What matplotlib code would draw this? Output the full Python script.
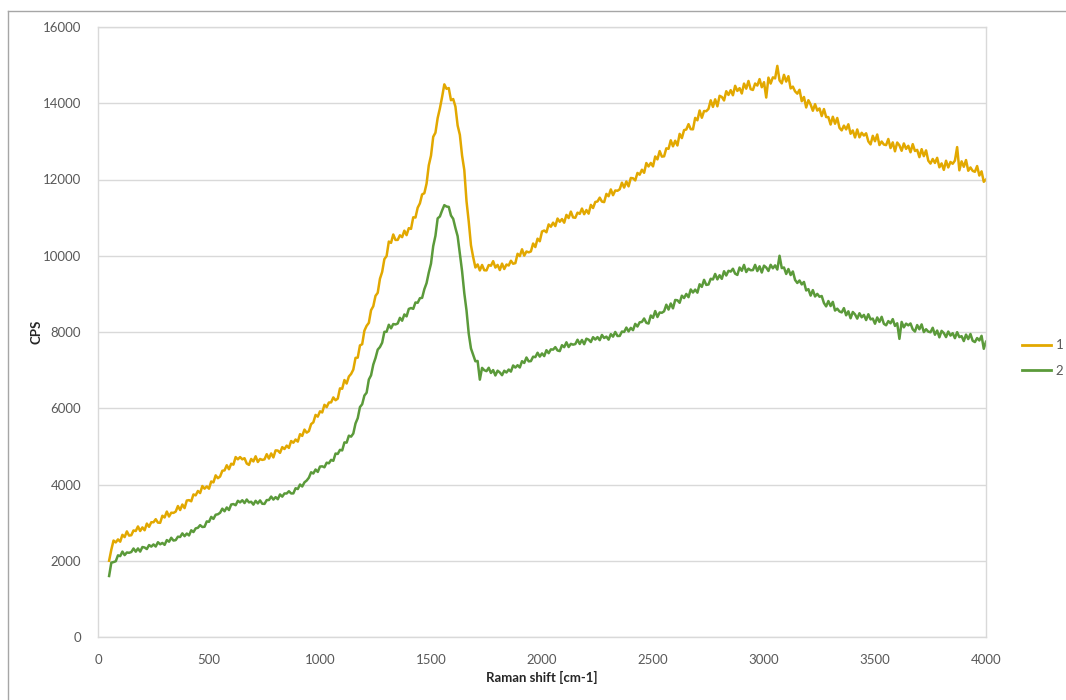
import numpy as np
import matplotlib
matplotlib.use("Agg")
import matplotlib.pyplot as plt
from matplotlib.lines import Line2D

# Counts (CPS), one value every 10 cm-1 from 50 to 4000
series_names = ["1", "2"]

cps_1 = [
    2000, 2290, 2530, 2480, 2560, 2500, 2680, 2620, 2770, 2660,
    2670, 2795, 2780, 2900, 2780, 2875, 2800, 2975, 2890, 3010,
    3010, 3090, 3000, 2995, 3180, 3135, 3290, 3160, 3260, 3255,
    3290, 3435, 3330, 3475, 3380, 3580, 3590, 3560, 3740, 3715,
    3830, 3775, 3960, 3890, 3950, 3890, 4080, 4055, 4240, 4165,
    4210, 4360, 4370, 4505, 4400, 4545, 4520, 4720, 4660, 4720,
    4660, 4690, 4550, 4515, 4670, 4605, 4740, 4590, 4670, 4645,
    4660, 4795, 4680, 4815, 4710, 4895, 4890, 4830, 4980, 4930,
    5020, 4960, 5140, 5095, 5180, 5125, 5320, 5275, 5440, 5360,
    5400, 5585, 5630, 5825, 5780, 5920, 5890, 6090, 6030, 6150,
    6154, 6284, 6210, 6252, 6522, 6511, 6740, 6648, 6832, 6899,
    7014, 7321, 7328, 7648, 7680, 8035, 8162, 8241, 8572, 8676,
    8948, 9028, 9396, 9576, 9912, 9992, 10372, 10339, 10558, 10415,
    10416, 10536, 10488, 10658, 10540, 10724, 10704, 11009, 11002, 11260,
    11374, 11609, 11640, 11892, 12372, 12626, 13120, 13228, 13612, 13864,
    14164, 14496, 14378, 14398, 14080, 14110, 13912, 13416, 13172, 12626,
    12248, 11428, 10896, 10276, 9962, 9692, 9772, 9614, 9758, 9620,
    9616, 9756, 9738, 9858, 9690, 9759, 9624, 9794, 9652, 9770,
    9744, 9869, 9790, 9807, 10052, 9991, 10170, 10003, 10112, 10089,
    10114, 10321, 10228, 10448, 10380, 10635, 10662, 10616, 10822, 10761,
    10868, 10778, 10976, 10891, 10962, 10867, 11072, 10989, 11158, 11005,
    10996, 11131, 11098, 11238, 11090, 11199, 11104, 11334, 11252, 11410,
    11424, 11524, 11420, 11407, 11622, 11561, 11740, 11588, 11712, 11704,
    11744, 11916, 11788, 11948, 11820, 12040, 12032, 11976, 12172, 12126,
    12256, 12176, 12432, 12342, 12434, 12344, 12604, 12528, 12746, 12600,
    12608, 12818, 12804, 13029, 12870, 13017, 12892, 13197, 13086, 13295,
    13312, 13452, 13320, 13316, 13616, 13553, 13810, 13619, 13796, 13792,
    13852, 14078, 13904, 14104, 13920, 14195, 14166, 14073, 14316, 14218,
    14344, 14209, 14458, 14323, 14396, 14256, 14516, 14382, 14584, 14370,
    14348, 14518, 14464, 14634, 14420, 14552, 14150, 14672, 14516, 14680,
    14652, 14980, 14600, 14521, 14746, 14568, 14710, 14389, 14436, 14312,
    14252, 14353, 14054, 14164, 13890, 14080, 13966, 13803, 13976, 13808,
    13864, 13664, 13848, 13638, 13636, 13441, 13646, 13462, 13614, 13355,
    13288, 13413, 13314, 13449, 13200, 13287, 13102, 13312, 13106, 13225,
    13152, 13212, 13000, 12921, 13146, 13003, 13180, 12904, 12996, 12917,
    12902, 13063, 12824, 12974, 12740, 12970, 12896, 12753, 12946, 12803,
    12884, 12714, 12928, 12748, 12776, 12586, 12796, 12612, 12764, 12495,
    12418, 12538, 12434, 12569, 12320, 12422, 12252, 12492, 12316, 12460,
    12412, 12497, 12850, 12241, 12476, 12333, 12510, 12229, 12316, 12227,
    12202, 12353, 12104, 12214, 11940, 12000,
]

cps_2 = [
    1600, 1949, 1965, 1987, 2142, 2121, 2240, 2148, 2217, 2209,
    2229, 2321, 2238, 2323, 2240, 2360, 2347, 2306, 2412, 2371,
    2428, 2373, 2486, 2431, 2467, 2417, 2542, 2499, 2603, 2530,
    2541, 2631, 2623, 2718, 2645, 2714, 2664, 2799, 2752, 2850,
    2864, 2934, 2885, 2892, 3032, 3021, 3150, 3098, 3207, 3219,
    3259, 3366, 3298, 3398, 3330, 3475, 3487, 3456, 3572, 3531,
    3588, 3513, 3606, 3531, 3547, 3472, 3572, 3504, 3583, 3495,
    3491, 3591, 3593, 3683, 3605, 3669, 3614, 3739, 3682, 3765,
    3764, 3824, 3765, 3767, 3902, 3881, 4000, 3948, 4057, 4104,
    4179, 4321, 4288, 4393, 4330, 4470, 4477, 4451, 4572, 4556,
    4646, 4621, 4812, 4802, 4909, 4894, 5104, 5098, 5281, 5255,
    5337, 5602, 5741, 6031, 6105, 6333, 6408, 6753, 6864, 7145,
    7318, 7538, 7605, 7719, 8004, 8007, 8190, 8096, 8209, 8198,
    8223, 8372, 8296, 8461, 8410, 8605, 8629, 8607, 8774, 8767,
    8886, 8896, 9122, 9282, 9559, 9794, 10254, 10523, 10981, 11030,
    11187, 11327, 11291, 11281, 11055, 10968, 10728, 10513, 10064, 9595,
    9018, 8563, 7955, 7569, 7404, 7232, 7240, 6750, 7059, 6998,
    6973, 7062, 6926, 7001, 6860, 6985, 6939, 6867, 6984, 6937,
    7016, 6961, 7122, 7067, 7129, 7069, 7234, 7188, 7331, 7230,
    7237, 7352, 7341, 7456, 7355, 7438, 7368, 7523, 7444, 7545,
    7538, 7603, 7515, 7499, 7654, 7602, 7730, 7606, 7689, 7668,
    7683, 7797, 7686, 7791, 7680, 7825, 7799, 7737, 7864, 7802,
    7866, 7786, 7922, 7842, 7879, 7799, 7944, 7878, 8001, 7895,
    7897, 8012, 8001, 8116, 8015, 8108, 8048, 8213, 8144, 8255,
    8264, 8354, 8240, 8222, 8432, 8371, 8550, 8393, 8512, 8504,
    8544, 8716, 8588, 8748, 8620, 8840, 8832, 8766, 8952, 8891,
    8998, 8913, 9116, 9036, 9112, 9032, 9252, 9184, 9368, 9235,
    9246, 9396, 9378, 9523, 9380, 9489, 9394, 9594, 9482, 9605,
    9584, 9659, 9530, 9497, 9692, 9606, 9760, 9573, 9662, 9619,
    9624, 9761, 9598, 9723, 9560, 9740, 9692, 9601, 9762, 9671,
    9748, 9638, 10000, 9676, 9692, 9522, 9652, 9494, 9588, 9365,
    9286, 9351, 9248, 9313, 9090, 9124, 8954, 9099, 8932, 9000,
    8924, 8944, 8760, 8672, 8812, 8681, 8790, 8563, 8612, 8539,
    8514, 8626, 8438, 8543, 8360, 8525, 8462, 8351, 8492, 8386,
    8448, 8313, 8466, 8331, 8352, 8217, 8382, 8264, 8398, 8215,
    8176, 8286, 8228, 8338, 8160, 8229, 7820, 8264, 8122, 8220,
    8174, 8224, 8070, 8012, 8182, 8071, 8200, 7998, 8072, 8009,
    7994, 8111, 7928, 8038, 7860, 8030, 7972, 7866, 8012, 7906,
    7968, 7838, 7996, 7866, 7892, 7762, 7932, 7814, 7948, 7770,
    7736, 7841, 7778, 7900, 7560, 7744,
]

raman_shift = np.linspace(50, 4000, len(cps_1))

x_ticks = [0, 500, 1000, 1500, 2000, 2500, 3000, 3500, 4000]
y_ticks = [0, 2000, 4000, 6000, 8000, 10000, 12000, 14000, 16000]

colors = ["#E2A800", "#5B9A3A"]
grid_col = "#D9D9D9"
text_col = "#595959"

plt.rcParams["font.family"] = ["Lato", "DejaVu Sans"]

fig = plt.figure(figsize=(10.66, 7.0), dpi=100)
ax = fig.add_axes([98 / 1066, 63 / 700, 888 / 1066, 610 / 700])

l1, = ax.plot(raman_shift, cps_1, color=colors[0], lw=1.8, label=series_names[0])
l2, = ax.plot(raman_shift, cps_2, color=colors[1], lw=1.8, label=series_names[1])

ax.set_xlim(0, 4000)
ax.set_ylim(0, 16000)
ax.set_xticks(x_ticks)
ax.set_yticks(y_ticks)
ax.tick_params(axis="both", length=0, labelsize=9.5, labelcolor=text_col)
ax.tick_params(axis="y", pad=12)
ax.tick_params(axis="x", pad=12)
ax.yaxis.grid(True, color=grid_col, lw=1.0)
ax.set_axisbelow(True)
for s in ax.spines.values():
    s.set_color(grid_col)
    s.set_linewidth(1.0)

ax.set_xlabel("Raman shift [cm-1]", fontsize=9.5, fontweight="bold", color="#262626", labelpad=4)
ax.set_ylabel("CPS", fontsize=9.5, fontweight="bold", color="#262626", labelpad=0)

leg = fig.legend(handles=[l1, l2], labels=series_names, loc="center left",
                 bbox_to_anchor=(1022 / 1066, 1 - 358 / 700), frameon=False,
                 fontsize=9.5, handlelength=2.2, handletextpad=0.35, labelspacing=1.0,
                 borderpad=0, borderaxespad=0)
for t in leg.get_texts():
    t.set_color(text_col)
for h in leg.legend_handles:
    h.set_linewidth(2.0)

# outer chart border (clipped by the picture at right and bottom)
fig.add_artist(Line2D([8 / 1066, 8 / 1066], [0, 1 - 11 / 700], transform=fig.transFigure,
                      color="#A6A6A6", lw=1.0))
fig.add_artist(Line2D([8 / 1066, 1], [1 - 11 / 700, 1 - 11 / 700], transform=fig.transFigure,
                      color="#A6A6A6", lw=1.0))

fig.savefig("out.png", dpi=100)
